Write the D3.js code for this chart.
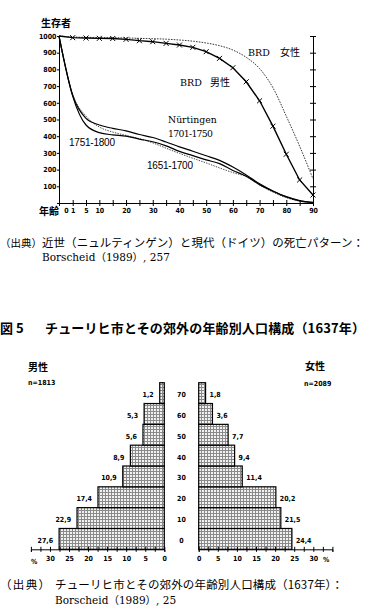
<!DOCTYPE html>
<html>
<head>
<meta charset="utf-8">
<script src="https://cdn.jsdelivr.net/npm/d3@7"></script>
<style>
  body { margin: 0; background: #fff; }
  svg { display: block; }
  .num { font-family: "DejaVu Sans Condensed", "DejaVu Sans", sans-serif; font-weight: bold; font-size: 7px; }
  .jp { font-family: "Noto Sans CJK JP", sans-serif; }
  .jpb { font-family: "Noto Sans CJK JP", sans-serif; font-weight: bold; }
  .serif { font-family: "DejaVu Serif", "Noto Sans CJK JP", serif; }
  .sans { font-family: "Liberation Sans", Arial, sans-serif; }
  .axis path, .axis line { stroke: #000; stroke-width: 1; }
</style>
</head>
<body>
<svg id="chart" width="370" height="609"></svg>
<script>
// survival curves (survivors out of 1000)
var ages = [0, 1, 5, 10, 15, 20, 25, 30, 35, 40, 45, 50, 55, 60, 65, 70, 75, 80, 85, 90];
var brdFemale = [1000, 994, 992, 991, 990, 988, 986, 984, 981, 976, 969, 958, 942, 916, 872, 805, 690, 520, 340, 145];
var brdMale = [1000, 990, 988, 986, 985, 980, 972, 966, 956, 946, 932, 906, 866, 810, 726, 612, 460, 292, 138, 48];
var n1701 = [1000, 645, 507, 467, 447, 432, 410, 392, 365, 336, 310, 283, 255, 215, 168, 115, 72, 38, 15, 4];
var n1751 = [1000, 640, 467, 421, 408, 400, 383, 367, 342, 309, 284, 258, 236, 195, 160, 110, 70, 36, 13, 3];
var n1651 = [1000, 650, 520, 455, 425, 405, 385, 360, 328, 297, 268, 240, 210, 182, 158, 108, 65, 32, 11, 2];
var yTicks = [100, 200, 300, 400, 500, 600, 700, 800, 900, 1000];
var xTicks = [0, 1, 5, 10, 15, 20, 25, 30, 35, 40, 45, 50, 55, 60, 65, 70, 75, 80, 85, 90];
var xLabels = [0, 1, 5, 10, 20, 30, 40, 50, 60, 70, 80, 90];

// population pyramid, Zurich 1637 (percent)
var groups = [0, 10, 20, 30, 40, 50, 60, 70];
var male = [27.6, 22.9, 17.4, 10.9, 8.9, 5.6, 5.3, 1.2];
var female = [24.4, 21.5, 20.2, 11.4, 9.4, 7.7, 3.6, 1.8];
var pctTicks = [0, 2.5, 5, 7.5, 10, 12.5, 15, 17.5, 20, 22.5, 25, 27.5, 30, 32.5, 35];

var svg = d3.select("#chart");
svg.append("rect").attr("width", 370).attr("height", 609).attr("fill", "#fff");

// ---------- top chart ----------
var x = d3.scaleLinear().domain([0, 1, 5, 90]).range([59, 72.7, 86, 313]);
var y = d3.scaleLinear().domain([0, 1000]).range([203, 36]);

var gx = svg.append("g").attr("class", "axis").attr("transform", "translate(0," + y(0) + ")")
  .call(d3.axisBottom(x).tickValues(xTicks).tickSizeOuter(0).tickSize(3)
    .tickFormat(function(d) { return xLabels.indexOf(d) >= 0 ? d : ""; }));
gx.selectAll(".tick line").attr("y1", -3).attr("y2", 3);
gx.selectAll(".tick text").attr("class", "num").attr("y", 5).attr("fill", "#000")
  .attr("dx", function(d) { return d === 0 ? 7 : 0; });

var gy = svg.append("g").attr("class", "axis").attr("transform", "translate(" + x(0) + ",0)")
  .call(d3.axisLeft(y).tickValues(yTicks).tickSizeOuter(0).tickSize(2).tickPadding(0.5)
    .tickFormat(d3.format("d")));
gy.selectAll(".tick text").attr("class", "num").attr("fill", "#000");

var gr = svg.append("g").attr("class", "axis").attr("transform", "translate(" + x(90) + ",0)")
  .call(d3.axisRight(y).tickValues(yTicks).tickSizeOuter(0).tickFormat(""));
gr.selectAll(".tick line").attr("x1", -3).attr("x2", 3);

function series(vals) { return ages.map(function(a, i) { return [a, vals[i]]; }); }
var line = d3.line().x(function(d) { return x(d[0]); }).y(function(d) { return y(d[1]); })
  .curve(d3.curveMonotoneX);
var lineStraight = d3.line().x(function(d) { return x(d[0]); }).y(function(d) { return y(d[1]); });

svg.append("path").datum(series(brdFemale)).attr("d", line)
  .attr("fill", "none").attr("stroke", "#222").attr("stroke-width", 0.9).attr("stroke-dasharray", "1.6,1.2");
svg.append("path").datum(series(n1651)).attr("d", line)
  .attr("fill", "none").attr("stroke", "#333").attr("stroke-width", 0.9).attr("stroke-dasharray", "1.4,1.2");
svg.append("path").datum(series(n1701)).attr("d", line)
  .attr("fill", "none").attr("stroke", "#000").attr("stroke-width", 1.2);
svg.append("path").datum(series(n1751)).attr("d", line)
  .attr("fill", "none").attr("stroke", "#000").attr("stroke-width", 1.2);
svg.append("path").datum(series(brdMale)).attr("d", lineStraight)
  .attr("fill", "none").attr("stroke", "#000").attr("stroke-width", 1.4);
svg.selectAll(".mk").data(series(brdMale).slice(1)).enter().append("path")
  .attr("class", "mk")
  .attr("transform", function(d) { return "translate(" + x(d[0]) + "," + y(d[1]) + ")"; })
  .attr("d", d3.symbol().type(d3.symbolTimes || d3.symbolCross).size(18))
  .attr("fill", "none").attr("stroke", "#000").attr("stroke-width", 1);

svg.append("text").attr("class", "jpb").attr("x", 41).attr("y", 27).attr("font-size", 10).text("生存者");
svg.append("text").attr("class", "jpb").attr("x", 39).attr("y", 214.5).attr("font-size", 10).text("年齢");

var t1 = svg.append("text").attr("x", 248).attr("y", 56);
t1.append("tspan").attr("class", "serif").attr("font-size", 9.5).text("BRD");
t1.append("tspan").attr("class", "jp").attr("x", 280).attr("font-size", 10).text("女性");
var t2 = svg.append("text").attr("x", 180).attr("y", 86);
t2.append("tspan").attr("class", "serif").attr("font-size", 9.5).text("BRD");
t2.append("tspan").attr("class", "jp").attr("x", 210).attr("font-size", 10).text("男性");

svg.append("text").attr("class", "serif").attr("x", 168).attr("y", 123).attr("font-size", 9.3).text("Nürtingen");
svg.append("text").attr("class", "serif").attr("x", 168).attr("y", 136.5).attr("font-size", 9.3)
  .attr("textLength", 45).text("1701-1750");
svg.append("text").attr("class", "sans").attr("x", 69).attr("y", 145.5).attr("font-size", 10)
  .attr("textLength", 46).text("1751-1800");
svg.append("text").attr("class", "sans").attr("x", 147).attr("y", 169).attr("font-size", 10)
  .attr("textLength", 46).text("1651-1700");

// caption 1
svg.append("text").attr("class", "jp").attr("x", 0).attr("y", 247).attr("font-size", 10.5)
  .text("（出典）");
svg.append("text").attr("class", "jp").attr("x", 42).attr("y", 247).attr("font-size", 11.5)
  .attr("textLength", 322).text("近世（ニュルティンゲン）と現代（ドイツ）の死亡パターン：");
svg.append("text").attr("class", "serif").attr("x", 42).attr("y", 261).attr("font-size", 10.5)
  .text("Borscheid（1989）, 257");

// ---------- title ----------
svg.append("text").attr("class", "jpb").attr("x", 0).attr("y", 333).attr("font-size", 13).text("図 5");
svg.append("text").attr("class", "jpb").attr("x", 45).attr("y", 333).attr("font-size", 13)
  .attr("textLength", 320).text("チューリヒ市とその郊外の年齢別人口構成（1637年）");

// ---------- pyramid ----------
var defs = svg.append("defs");
var pat = defs.append("pattern").attr("id", "mesh").attr("patternUnits", "userSpaceOnUse")
  .attr("width", 3).attr("height", 3);
pat.append("rect").attr("width", 3).attr("height", 3).attr("fill", "#f2f2f2");
pat.append("rect").attr("width", 3).attr("height", 1).attr("fill", "#8a8a8a");
pat.append("rect").attr("width", 1).attr("height", 3).attr("fill", "#8a8a8a");

var xm = d3.scaleLinear().domain([0, 35]).range([164.3, 30.9]);
var xf = d3.scaleLinear().domain([0, 35]).range([198.7, 332.4]);
var yb = d3.scaleBand().domain(groups.slice().reverse()).range([382.7, 549.3]);
var comma = function(v) { return d3.format(".1f")(v).replace(".", ","); };

var pm = groups.map(function(g, i) { return { g: g, v: male[i] }; });
var pf = groups.map(function(g, i) { return { g: g, v: female[i] }; });

svg.selectAll(".bm").data(pm).enter().append("rect").attr("class", "bm")
  .attr("x", function(d) { return xm(d.v); }).attr("y", function(d) { return yb(d.g); })
  .attr("width", function(d) { return xm(0) - xm(d.v); }).attr("height", yb.bandwidth())
  .attr("fill", "url(#mesh)").attr("stroke", "#000").attr("stroke-width", 1.2);
svg.selectAll(".bf").data(pf).enter().append("rect").attr("class", "bf")
  .attr("x", xf(0)).attr("y", function(d) { return yb(d.g); })
  .attr("width", function(d) { return xf(d.v) - xf(0); }).attr("height", yb.bandwidth())
  .attr("fill", "url(#mesh)").attr("stroke", "#000").attr("stroke-width", 1.2);

svg.selectAll(".lm").data(pm).enter().append("text").attr("class", "num")
  .attr("font-size", 8).attr("text-anchor", "end")
  .attr("x", function(d) { return xm(d.v) - 6; })
  .attr("y", function(d) { return yb(d.g) + yb.bandwidth() / 2 + 4; })
  .text(function(d) { return comma(d.v); });
svg.selectAll(".lf").data(pf).enter().append("text").attr("class", "num")
  .attr("font-size", 8)
  .attr("x", function(d) { return xf(d.v) + 4; })
  .attr("y", function(d) { return yb(d.g) + yb.bandwidth() / 2 + 4; })
  .text(function(d) { return comma(d.v); });
svg.selectAll(".la").data(groups).enter().append("text").attr("class", "num")
  .attr("font-size", 8).attr("text-anchor", "middle")
  .attr("x", (xm(0) + xf(0)) / 2)
  .attr("y", function(d) { return yb(d) + yb.bandwidth() / 2 + 4; })
  .text(function(d) { return d; });

function pctAxis(scale) {
  return d3.axisBottom(scale).tickValues(pctTicks).tickSizeOuter(0).tickSize(2.5)
    .tickFormat(function(d) { return (d % 5 === 0 && d <= 30) ? d : ""; });
}
[xm, xf].forEach(function(s) {
  var g = svg.append("g").attr("class", "axis").attr("transform", "translate(0,549.3)").call(pctAxis(s));
  g.selectAll(".tick line").attr("y1", -2.5).attr("y2", 2.5);
  g.selectAll(".tick text").attr("class", "num").attr("font-size", 8).attr("y", 7).attr("fill", "#000");
});
svg.append("text").attr("class", "num").attr("font-size", 8).attr("x", 31).attr("y", 564).text("%");
svg.append("text").attr("class", "num").attr("font-size", 8).attr("x", 323).attr("y", 562).text("%");

svg.append("text").attr("class", "jpb").attr("x", 28).attr("y", 370.5).attr("font-size", 10).text("男性");
svg.append("text").attr("class", "num").attr("x", 28).attr("y", 385).text("n=1813");
svg.append("text").attr("class", "jpb").attr("x", 305).attr("y", 370).attr("font-size", 10).text("女性");
svg.append("text").attr("class", "num").attr("x", 304).attr("y", 385.5).text("n=2089");

// caption 2
svg.append("text").attr("class", "jp").attr("x", 0).attr("y", 589).attr("font-size", 11.5)
  .attr("textLength", 50).text("（出典）");
svg.append("text").attr("class", "jp").attr("x", 55).attr("y", 589).attr("font-size", 11.5)
  .attr("textLength", 288).text("チューリヒ市とその郊外の年齢別人口構成（1637年）：");
svg.append("text").attr("class", "serif").attr("x", 55).attr("y", 604).attr("font-size", 10.5)
  .text("Borscheid（1989）, 25");
</script>
</body>
</html>
